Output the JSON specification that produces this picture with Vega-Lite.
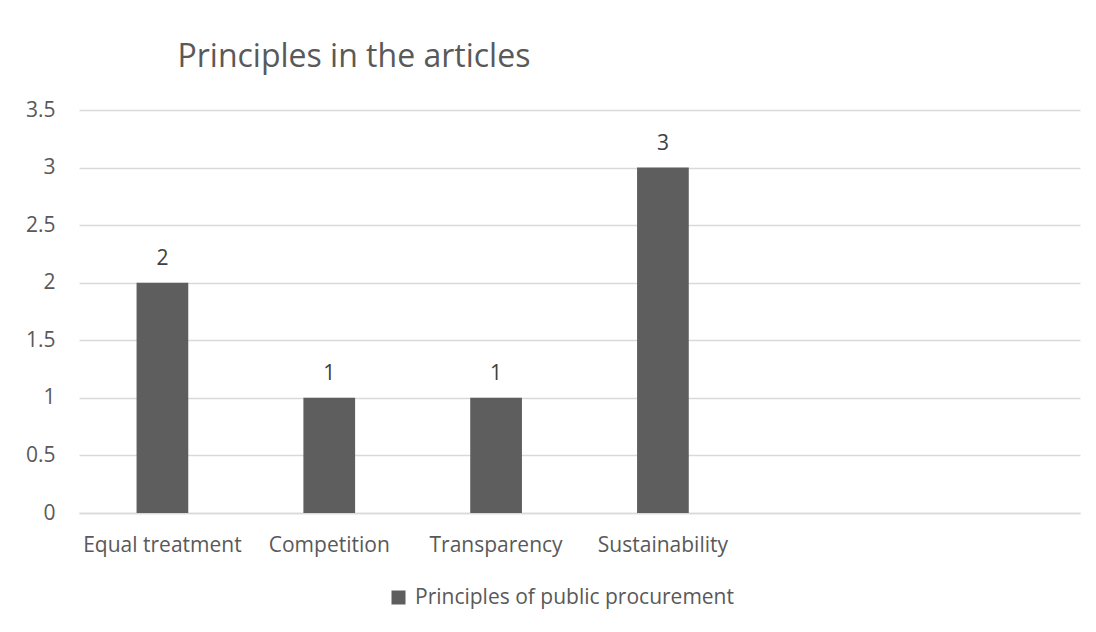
{
  "$schema": "https://vega.github.io/schema/vega-lite/v6.json",
  "autosize": {"type": "none"},
  "width": 1001,
  "height": 403,
  "padding": {"left": 79, "top": 110, "right": 16, "bottom": 119},
  "background": "white",
  "title": {
    "text": "Principles in the articles",
    "anchor": "start",
    "dx": 152,
    "offset": 0,
    "baseline": "alphabetic",
    "fontSize": 32,
    "font": "Open Sans",
    "fontWeight": "normal",
    "color": "#595959"
  },
  "data": {
    "values": [
      {"principle": "Equal treatment", "count": 2, "series": "Principles of public procurement"},
      {"principle": "Competition", "count": 1, "series": "Principles of public procurement"},
      {"principle": "Transparency", "count": 1, "series": "Principles of public procurement"},
      {"principle": "Sustainability", "count": 3, "series": "Principles of public procurement"}
    ]
  },
  "encoding": {
    "x": {
      "field": "principle",
      "type": "nominal",
      "sort": null,
      "scale": {
        "domain": ["Equal treatment", "Competition", "Transparency", "Sustainability", "_e1", "_e2"],
        "paddingInner": 0.69,
        "paddingOuter": 0.345
      },
      "axis": {
        "title": null,
        "labelAngle": 0,
        "labelExpr": "indexof(datum.value, '_e') == 0 ? '' : datum.value",
        "labelFontSize": 21,
        "labelFont": "Open Sans",
        "labelColor": "#595959",
        "labelBaseline": "alphabetic",
        "labelPadding": 38,
        "labelLimit": 300,
        "ticks": false,
        "domainColor": "#d9d9d9",
        "domainWidth": 1.5
      }
    },
    "y": {
      "field": "count",
      "type": "quantitative",
      "scale": {"domain": [0, 3.5]},
      "axis": {
        "title": null,
        "values": [0, 0.5, 1, 1.5, 2, 2.5, 3, 3.5],
        "format": "~g",
        "labelFontSize": 21,
        "labelFont": "Open Sans",
        "labelColor": "#595959",
        "labelPadding": 24,
        "ticks": false,
        "domain": false,
        "gridColor": "#d9d9d9",
        "gridWidth": 1.5
      }
    }
  },
  "layer": [
    {
      "mark": {"type": "bar"},
      "encoding": {
        "color": {
          "field": "series",
          "type": "nominal",
          "scale": {"range": ["#5e5e5e"]},
          "legend": {
            "title": null,
            "orient": "none",
            "legendX": 309,
            "legendY": 477,
            "symbolType": "square",
            "symbolSize": 196,
            "symbolStrokeWidth": 0,
            "labelFontSize": 21,
            "labelFont": "Open Sans",
            "labelColor": "#595959",
            "labelOffset": 6,
            "labelLimit": 500
          }
        }
      }
    },
    {
      "mark": {"type": "text", "baseline": "alphabetic", "dy": -18, "fontSize": 21, "font": "Open Sans", "color": "#404040"},
      "encoding": {"text": {"field": "count", "type": "quantitative"}}
    }
  ],
  "config": {"view": {"stroke": null}}
}
